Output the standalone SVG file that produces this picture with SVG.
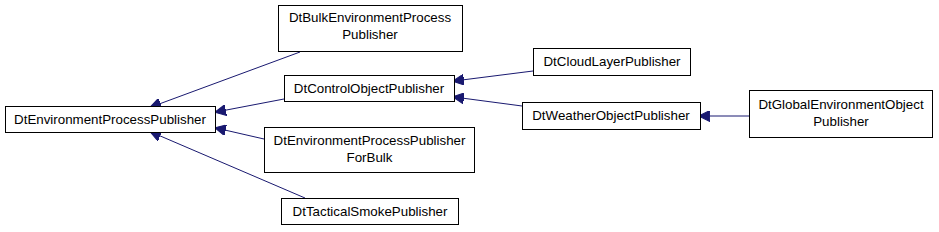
<svg xmlns="http://www.w3.org/2000/svg" width="939" height="232" viewBox="0 0 939 232">
<style>
.n rect{fill:#fff;stroke:#000;stroke-width:1}
.n text{font-family:"Liberation Sans",Arial,sans-serif;font-size:13.33px;text-anchor:middle;fill:#000}
.e path{fill:none;stroke:#191970;stroke-width:1}
</style>
<defs>
<marker id="a" viewBox="0 0 10 10" refX="9" refY="5" markerWidth="11" markerHeight="11" markerUnits="userSpaceOnUse" orient="auto">
<path d="M0,0 L10,5 L0,10 z" fill="#191970" stroke="#191970"/>
</marker>
</defs>
<rect width="939" height="232" fill="#fff"/>
<g id="edges" class="e">
<path d="M300,52 L151,107" marker-end="url(#a)"/>
<path d="M284,99 L216,112" marker-end="url(#a)"/>
<path d="M264,139 L216,128" marker-end="url(#a)"/>
<path d="M305,198 L151,132" marker-end="url(#a)"/>
<path d="M533,71 L454,81" marker-end="url(#a)"/>
<path d="M522,106 L454,97" marker-end="url(#a)"/>
<path d="M749,116 L700,116" marker-end="url(#a)"/>
</g>
<g id="n_epp" class="n"><rect x="5.5" y="106.5" width="210" height="26"/><text x="110" y="124">DtEnvironmentProcessPublisher</text></g>
<g id="n_bulk" class="n"><rect x="278.5" y="5.5" width="184" height="46"/><text x="370" y="22">DtBulkEnvironmentProcess</text><text x="370" y="39">Publisher</text></g>
<g id="n_control" class="n"><rect x="284.5" y="75.5" width="170" height="26"/><text x="369" y="93">DtControlObjectPublisher</text></g>
<g id="n_forbulk" class="n"><rect x="264.5" y="127.5" width="210" height="45"/><text x="369.5" y="145">DtEnvironmentProcessPublisher</text><text x="369.5" y="162">ForBulk</text></g>
<g id="n_smoke" class="n"><rect x="281.5" y="198.5" width="177" height="26"/><text x="370" y="216">DtTacticalSmokePublisher</text></g>
<g id="n_cloud" class="n"><rect x="533.5" y="48.5" width="157" height="27"/><text x="612" y="66">DtCloudLayerPublisher</text></g>
<g id="n_weather" class="n"><rect x="522.5" y="102.5" width="178" height="27"/><text x="611" y="120">DtWeatherObjectPublisher</text></g>
<g id="n_global" class="n"><rect x="749.5" y="90.5" width="183" height="47"/><text x="841" y="109">DtGlobalEnvironmentObject</text><text x="841" y="126">Publisher</text></g>
</svg>
